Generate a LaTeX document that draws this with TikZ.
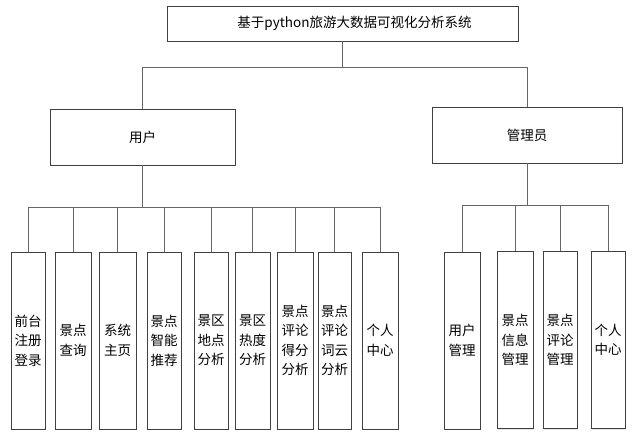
\documentclass[tikz,border=0pt]{standalone}
\usepackage{fontspec}
\setmainfont{Noto Sans CJK SC}
\usetikzlibrary{shadows}
\begin{document}
\begin{tikzpicture}[x=1pt,y=-1pt,
  box/.style={draw=black!75,line width=0.8pt,fill=white,inner sep=0pt,align=center,
    font=\fontsize{13.5}{19.5}\selectfont,
    drop shadow={shadow xshift=1.2pt,shadow yshift=-1.2pt,opacity=0.25,fill=black!40}},
  leaf/.style={box,minimum height=177pt},
  conn/.style={draw=black!60,line width=0.9pt}]
\fill[white] (0,0) rectangle (635,438);
\useasboundingbox (0,0) rectangle (635,438);
% top
\node[box,minimum width=351pt,minimum height=35pt] (top) at (342.5,23.5) {\hspace*{24pt}基于python旅游大数据可视化分析系统};
\node[box,minimum width=185pt,minimum height=56pt] (user) at (142.5,137) {用户};
\node[box,minimum width=190pt,minimum height=56pt] (admin) at (527,135) {管理员};
% user leaves
\node[leaf,minimum width=34pt] (u1) at (28,340.5) {前台\\注册\\登录};
\node[leaf,minimum width=36pt] (u2) at (73,340.5) {景点\\查询};
\node[leaf,minimum width=37pt] (u3) at (117.5,340.5) {系统\\主页};
\node[leaf,minimum width=34pt] (u4) at (164,340.5) {景点\\智能\\推荐};
\node[leaf,minimum width=34pt] (u5) at (211,340.5) {景区\\地点\\分析};
\node[leaf,minimum width=35pt] (u6) at (252.5,340.5) {景区\\热度\\分析};
\node[leaf,minimum width=36pt] (u7) at (295,340.5) {景点\\评论\\得分\\分析};
\node[leaf,minimum width=33pt] (u8) at (334.5,340.5) {景点\\评论\\词云\\分析};
\node[leaf,minimum width=36pt] (u9) at (380,340.5) {个人\\中心};
% admin leaves
\node[leaf,minimum width=36pt] (a1) at (462,340.5) {用户\\管理};
\node[leaf,minimum width=36pt] (a2) at (515,340) {景点\\信息\\管理};
\node[leaf,minimum width=34pt] (a3) at (560,340) {景点\\评论\\管理};
\node[leaf,minimum width=34pt] (a4) at (608,340) {个人\\中心};
% buses
\coordinate (bus0) at (0,67);
\coordinate (busU) at (0,207);
\coordinate (busA) at (0,205);
\draw[conn] (top.south) -- (top.south |- bus0);
\draw[conn] (user.north |- bus0) -- (admin.north |- bus0);
\draw[conn] (user.north) -- (user.north |- bus0);
\draw[conn] (admin.north) -- (admin.north |- bus0);
\draw[conn] (user.south) -- (user.south |- busU);
\draw[conn] (u1.north |- busU) -- (u9.north |- busU);
\foreach \n in {u1,u2,u3,u4,u5,u6,u7,u8,u9}{
  \draw[conn] (\n.north) -- (\n.north |- busU);
}
\draw[conn] (admin.south) -- (admin.south |- busA);
\draw[conn] (a1.north |- busA) -- (a4.north |- busA);
\foreach \n in {a1,a2,a3,a4}{
  \draw[conn] (\n.north) -- (\n.north |- busA);
}
\end{tikzpicture}
\end{document}
